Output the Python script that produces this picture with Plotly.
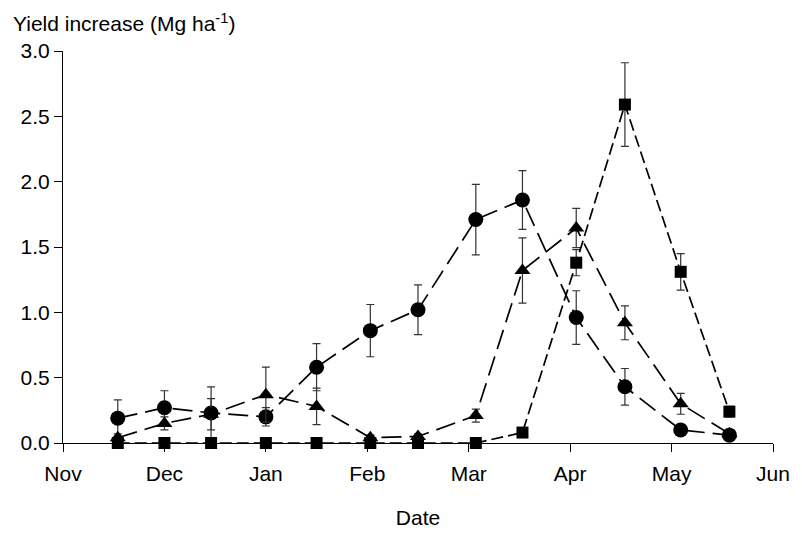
import plotly.graph_objects as go

# month offsets from 1 Nov (month-equal axis)
sample_x = [0.54, 1.0, 1.46, 2.0, 2.5, 3.03, 3.5, 4.07, 4.53, 5.06, 5.54, 6.09, 6.57]
month_ticks = [0, 1, 2, 3, 4, 5, 6, 7]
month_labels = ["Nov", "Dec", "Jan", "Feb", "Mar", "Apr", "May", "Jun"]

circle_y = [0.19, 0.27, 0.23, 0.20, 0.58, 0.86, 1.02, 1.71, 1.86, 0.96, 0.43, 0.10, 0.06]
circle_err = [0.14, 0.13, 0.20, 0.07, 0.18, 0.20, 0.19, 0.27, 0.225, 0.205, 0.14, 0.02, 0.02]

triangle_y = [0.04, 0.15, 0.22, 0.37, 0.28, 0.04, 0.05, 0.21, 1.32, 1.645, 0.92, 0.30, 0.07]
triangle_err = [0.03, 0.05, 0.12, 0.21, 0.14, 0.02, 0.02, 0.05, 0.25, 0.15, 0.13, 0.08, 0.02]

square_y = [0.0, 0.0, 0.0, 0.0, 0.0, 0.0, 0.0, 0.0, 0.08, 1.38, 2.59, 1.31, 0.24]
square_err = [0.0, 0.0, 0.0, 0.0, 0.0, 0.0, 0.0, 0.0, 0.02, 0.10, 0.32, 0.14, 0.04]

FONT = "Liberation Sans, Arial, sans-serif"
FS = 21
err_style = dict(type="data", thickness=1.2, width=4, color="#333333")

fig = go.Figure()
series = [
    (circle_y, circle_err, "circle", "20px,8px", 15),
    (triangle_y, triangle_err, "triangle-up", "20px,8px", 14),
    (square_y, square_err, "square", "12px,5px", 12),
]
for ys, errs, sym, dash, size in series:
    fig.add_trace(go.Scatter(
        x=sample_x, y=ys, mode="lines+markers",
        line=dict(color="black", width=1.7, dash=dash),
        marker=dict(symbol=sym, size=size, color="black"),
        error_y=dict(array=errs, **err_style),
        cliponaxis=False, showlegend=False,
    ))

fig.update_layout(
    width=802, height=538,
    margin=dict(l=63, r=20, t=51, b=87),
    paper_bgcolor="white", plot_bgcolor="white",
    font=dict(family=FONT, size=FS, color="black"),
    title=dict(text="Yield increase (Mg ha<sup>-1</sup>)", x=13/802, xanchor="left",
               xref="container", yref="container", y=1 - 24/538, yanchor="middle",
               font=dict(family=FONT, size=FS, color="black")),
)
fig.update_xaxes(
    range=[0, 7], tickmode="array", tickvals=month_ticks, ticktext=month_labels,
    showline=True, linecolor="black", linewidth=1, ticks="outside", ticklen=8,
    tickcolor="black", showgrid=False, zeroline=False, ticklabelstandoff=4,
    title=dict(text="Date", standoff=26, font=dict(family=FONT, size=FS)),
)
fig.update_yaxes(
    range=[0, 3], dtick=0.5, tickformat=".1f",
    showline=True, linecolor="black", linewidth=1, ticks="outside", ticklen=8,
    tickcolor="black", showgrid=False, zeroline=False,
)
fig.write_html(
    "out.html",
    config={"displayModeBar": False},
    post_script="document.body.style.margin='0';document.body.style.overflow='hidden';",
)
